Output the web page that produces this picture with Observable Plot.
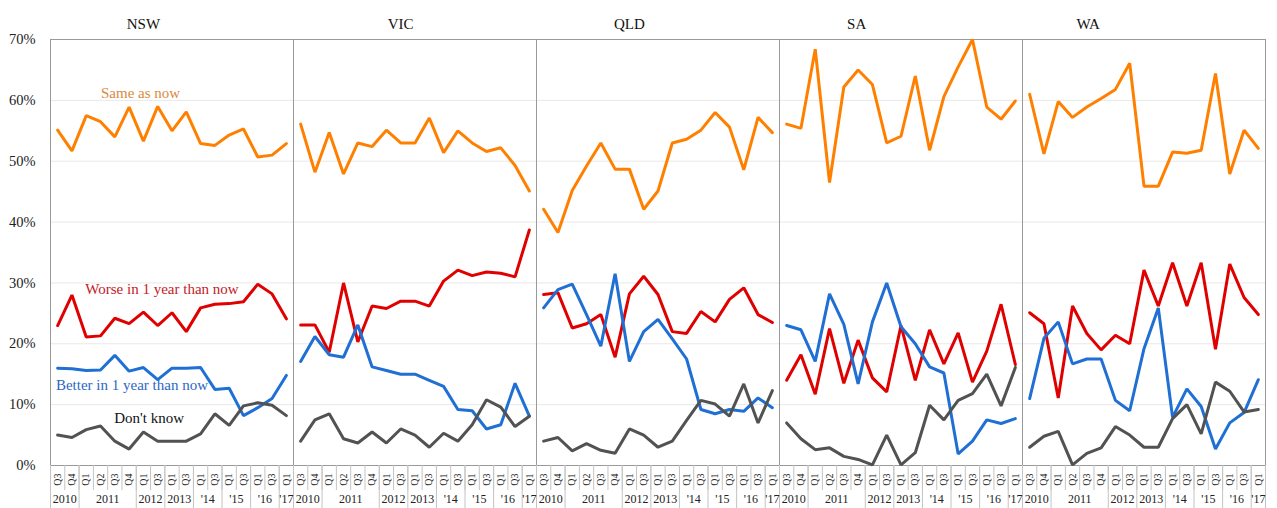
<!DOCTYPE html>
<html><head><meta charset="utf-8">
<script src="https://cdn.jsdelivr.net/npm/d3@7"></script>
<script src="https://cdn.jsdelivr.net/npm/@observablehq/plot@0.6"></script>
<style>html,body{margin:0;padding:0;background:#fff}</style>
</head><body><div id="chart"></div>
<script>
const states = ["NSW", "VIC", "QLD", "SA", "WA"];
const quarterLabels = ["Q3","Q4","Q1","Q2","Q3","Q4","Q1","Q3","Q1","Q3","Q1","Q3","Q1","Q3","Q1","Q3","Q1"];
const yearLabels = ["2010", "2011", "2012", "2013", "'14", "'15", "'16", "'17"];
const yearFirstQuarter = [0, 2, 6, 8, 10, 12, 14, 16];
const yearLastQuarter  = [1, 5, 7, 9, 11, 13, 15, 16];
const seriesNames = ["Same as now", "Worse in 1 year than now", "Better in 1 year than now", "Don't know"];
const seriesColors = ["#ff8000", "#e00000", "#1f6fd4", "#525252"];
const labelColors = ["#d98a3c", "#c42028", "#2c68c4", "#111111"];

const nswSame   = [55.1,51.7,57.5,56.5,54.0,58.9,53.3,59.0,55.0,58.1,52.9,52.6,54.3,55.3,50.7,51.0,52.9];
const nswWorse  = [23.0,28.0,21.1,21.3,24.2,23.3,25.2,23.0,25.1,22.0,25.9,26.5,26.6,26.9,29.8,28.2,24.1];
const nswBetter = [16.0,15.9,15.6,15.7,18.1,15.5,16.1,14.1,16.0,16.0,16.1,12.5,12.7,8.2,9.5,11.0,14.8];
const nswDK     = [5.0,4.6,5.9,6.5,4.0,2.7,5.5,4.0,4.0,4.0,5.2,8.5,6.6,9.8,10.3,9.9,8.2];

const vicSame   = [56.1,48.2,54.7,47.9,53.0,52.4,55.1,53.0,53.0,57.1,51.4,55.0,53.0,51.6,52.2,49.3,45.1];
const vicWorse  = [23.1,23.1,18.6,30.0,20.3,26.2,25.8,27.0,27.0,26.2,30.3,32.1,31.2,31.8,31.6,31.0,38.7];
const vicBetter = [17.1,21.2,18.2,17.8,23.1,16.2,15.6,15.0,15.0,14.0,13.0,9.2,9.0,6.0,6.7,13.5,8.1];
const vicDK     = [4.0,7.5,8.5,4.4,3.7,5.5,3.7,6.0,5.0,3.0,5.3,4.0,6.7,10.8,9.6,6.4,8.1];

const qldSame   = [42.1,38.3,45.2,49.2,53.0,48.7,48.7,42.1,45.1,53.0,53.6,55.1,58.0,55.6,48.6,57.2,54.7];
const qldWorse  = [28.1,28.4,22.6,23.3,24.8,17.8,28.2,31.1,28.1,22.0,21.7,25.3,23.6,27.3,29.2,24.8,23.5];
const qldBetter = [25.9,28.9,29.8,24.8,19.6,31.5,17.1,22.0,24.0,20.8,17.5,9.2,8.5,9.2,8.9,11.1,9.5];
const qldDK     = [4.0,4.6,2.4,3.6,2.5,2.0,6.0,5.0,3.0,4.0,7.4,10.7,10.1,8.1,13.4,7.0,12.3];

const saSame    = [56.1,55.4,68.4,46.5,62.2,65.0,62.6,53.0,54.1,64.0,51.8,60.6,65.5,70.0,58.9,56.9,59.9];
const saWorse   = [14.0,18.2,11.7,22.5,13.5,20.6,14.4,12.1,23.0,14.0,22.3,16.7,21.8,13.7,18.8,26.5,16.6];
const saBetter  = [23.0,22.3,17.1,28.2,23.2,13.4,23.6,30.0,22.8,20.0,16.2,15.2,1.9,4.0,7.5,6.9,7.7];
const saDK      = [7.0,4.4,2.6,2.9,1.5,1.0,0.1,5.0,0.1,2.1,9.9,7.5,10.7,11.8,15.0,9.8,16.1];

const waSame    = [61.0,51.2,59.8,57.2,58.9,60.3,61.8,66.1,45.9,45.9,51.5,51.3,51.8,64.4,47.9,55.1,52.1];
const waWorse   = [25.1,23.3,11.1,26.2,21.7,19.0,21.4,20.0,32.1,26.2,33.3,26.2,33.3,19.1,33.1,27.6,24.8];
const waBetter  = [11.0,20.9,23.6,16.7,17.5,17.5,10.7,9.0,19.2,25.9,7.9,12.6,9.7,2.7,7.0,8.7,14.1];
const waDK      = [3.0,4.8,5.6,0.1,2.0,2.9,6.4,5.0,3.0,3.0,7.7,10.0,5.2,13.7,12.2,8.8,9.2];

const byState = {
  NSW: [nswSame, nswWorse, nswBetter, nswDK],
  VIC: [vicSame, vicWorse, vicBetter, vicDK],
  QLD: [qldSame, qldWorse, qldBetter, qldDK],
  SA:  [saSame, saWorse, saBetter, saDK],
  WA:  [waSame, waWorse, waBetter, waDK]
};

const rows = [];
for (const st of states) {
  byState[st].forEach((vals, s) => {
    vals.forEach((v, i) => rows.push({state: st, series: seriesNames[s], i, value: v}));
  });
}

// layout-only annotation placement (title and in-chart series labels)
const titlePlace = {NSW: 6.0, VIC: 7.0, QLD: 6.0, SA: 4.9, WA: 4.1};
const titles = states.map(st => ({state: st, pos: titlePlace[st]}));
const seriesLabels = [
  {state: "NSW", text: seriesNames[0], pos: 5.8, val: 61.2, color: labelColors[0]},
  {state: "NSW", text: seriesNames[1], pos: 7.3, val: 29.0, color: labelColors[1]},
  {state: "NSW", text: seriesNames[2], pos: 5.2, val: 13.2, color: labelColors[2]},
  {state: "NSW", text: seriesNames[3], pos: 6.4, val: 7.7, color: labelColors[3]}
];

const yearCenters = yearLabels.map((_, k) => (yearFirstQuarter[k] + yearLastQuarter[k]) / 2);
const yearBounds = [-0.5, ...yearLastQuarter.map(q => q + 0.5)];
const serif = "'Liberation Serif', 'Times New Roman', serif";

const chart = Plot.plot({
  width: 1277, height: 508,
  marginTop: 39, marginBottom: 43, marginLeft: 48, marginRight: 10,
  style: {fontFamily: serif, background: "#fff", color: "#222"},
  fx: {domain: states, padding: 0, axis: null},
  x: {domain: [-0.5, 16.5], axis: null},
  y: {domain: [0, 70], axis: null},
  color: {domain: seriesNames, range: seriesColors},
  marks: [
    Plot.gridY({ticks: d3.range(10, 70, 10), stroke: "#e8e8e8", strokeOpacity: 1}),
    Plot.frame({stroke: "#9a9a9a"}),
    Plot.axisY({ticks: d3.range(0, 71, 10), tickFormat: d => d + "%", tickSize: 0, tickPadding: 15, fontSize: 14.5}),
    Plot.axisX({ticks: d3.range(17), tickFormat: i => quarterLabels[i], tickRotate: -90, tickSize: 0, tickPadding: 8, fontSize: 10}),
    Plot.axisX({ticks: d3.range(-0.5, 17, 1), tickFormat: () => "", tickSize: 25, stroke: "#c4c4c4"}),
    Plot.axisX({ticks: yearBounds, tickFormat: () => "", tickSize: 43, stroke: "#c4c4c4"}),
    Plot.axisX({ticks: yearCenters, tickFormat: c => yearLabels[yearCenters.indexOf(c)], tickSize: 0, tickPadding: 29, fontSize: 12}),
    Plot.lineY(rows, {fx: "state", x: "i", y: "value", z: "series", stroke: "series", strokeWidth: 3, strokeLinejoin: "miter"}),
    Plot.text(titles, {fx: "state", x: "pos", text: "state", frameAnchor: "top", dy: -21, fontSize: 15, fill: "#111"}),
    Plot.text(seriesLabels, {fx: "state", x: "pos", y: "val", text: "text", fill: d => d.color, fontSize: 15})
  ]
});
document.getElementById("chart").appendChild(chart);
</script>
</body></html>
